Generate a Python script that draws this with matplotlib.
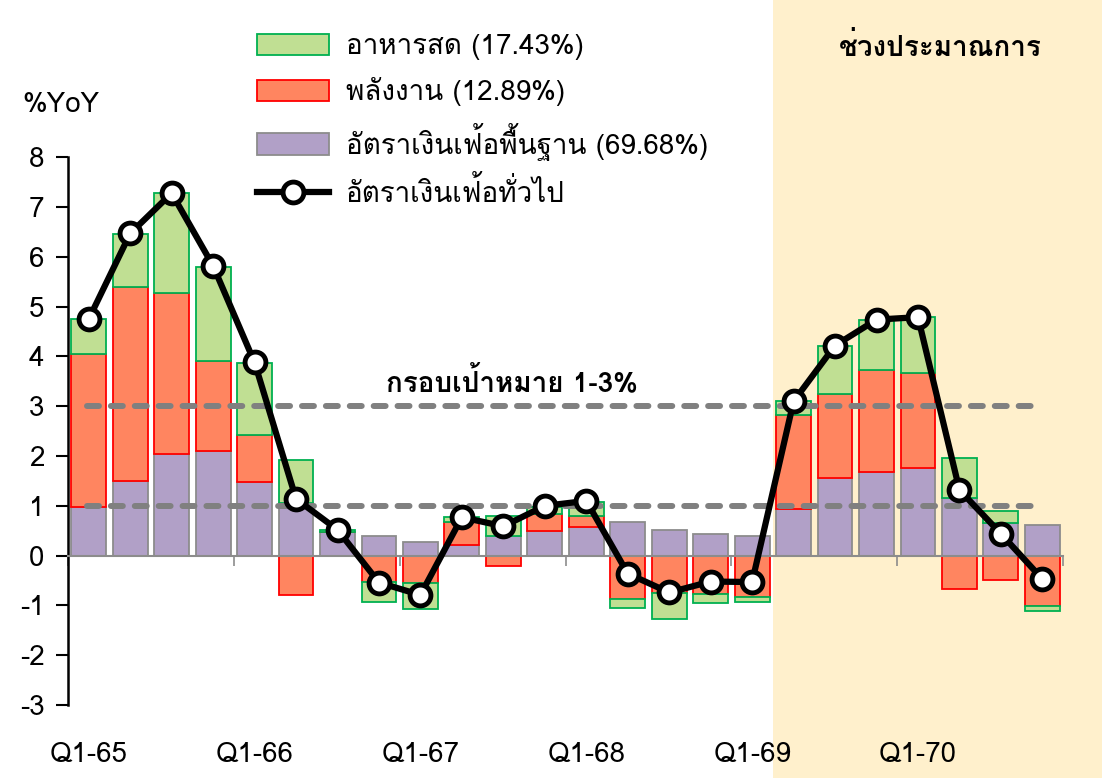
import numpy as np
import matplotlib
matplotlib.use('Agg')
import matplotlib.pyplot as plt
import matplotlib.font_manager as fm
from matplotlib.ft2font import FT2Font
from matplotlib.patches import Rectangle, Patch
from matplotlib.lines import Line2D
import matplotlib.transforms as mtransforms

# find a font with Thai glyphs
thai_font = None
for f in fm.fontManager.ttflist:
    try:
        if ord('ก') in FT2Font(f.fname).get_charmap():
            thai_font = f.name
            break
    except Exception:
        pass
fams = [thai_font, 'DejaVu Sans'] if thai_font else ['DejaVu Sans']
plt.rcParams['font.family'] = fams
plt.rcParams['axes.unicode_minus'] = False

quarters = ['Q1-65', 'Q2-65', 'Q3-65', 'Q4-65',
            'Q1-66', 'Q2-66', 'Q3-66', 'Q4-66',
            'Q1-67', 'Q2-67', 'Q3-67', 'Q4-67',
            'Q1-68', 'Q2-68', 'Q3-68', 'Q4-68',
            'Q1-69', 'Q2-69', 'Q3-69', 'Q4-69',
            'Q1-70', 'Q2-70', 'Q3-70', 'Q4-70']
core = [0.97, 1.50, 2.05, 2.11, 1.47, 1.05, 0.47, 0.39, 0.28, 0.22, 0.40, 0.50,
        0.58, 0.68, 0.52, 0.43, 0.40, 0.94, 1.55, 1.67, 1.77, 1.16, 0.66, 0.62]
energy = [3.08, 3.90, 3.23, 1.79, 0.96, -0.80, 0.00, -0.52, -0.54, 0.45, -0.20, 0.34,
          0.22, -0.87, -0.76, -0.78, -0.84, 1.89, 1.70, 2.05, 1.90, -0.66, -0.48, -1.02]
food = [0.70, 1.05, 2.00, 1.90, 1.44, 0.88, 0.05, -0.41, -0.54, 0.10, 0.39, 0.14,
        0.28, -0.18, -0.51, -0.18, -0.10, 0.28, 0.97, 1.02, 1.12, 0.81, 0.24, -0.10]
headline = [4.75, 6.47, 7.28, 5.82, 3.88, 1.14, 0.52, -0.54, -0.79, 0.77, 0.59, 1.00,
            1.10, -0.36, -0.74, -0.52, -0.53, 3.10, 4.22, 4.74, 4.79, 1.32, 0.44, -0.47]
label_idx = [0, 4, 8, 12, 16, 20]
target_lo, target_hi = 1, 3
forecast_start = 16.5

x = np.arange(len(quarters))
fs = 20

fig = plt.figure(figsize=(11.02, 7.78), dpi=100)
ax = fig.add_axes([0.0617, 0.0938, 0.903, 0.704])
ax.patch.set_alpha(0)

# forecast shading over the whole figure height
trans = mtransforms.blended_transform_factory(ax.transData, fig.transFigure)
fig.add_artist(Rectangle((forecast_start, 0), 20, 1, transform=trans,
                         facecolor='#FFF0CC', edgecolor='none', zorder=-5))

pos_b = np.zeros(len(x))
neg_b = np.zeros(len(x))
series = [(core, '#B1A0C7', '#8C8C8C'),
          (energy, '#FF8560', '#FF0000'),
          (food, '#C0DF93', '#00B050')]
for vals, fc, ec in series:
    v = np.array(vals)
    b = np.where(v >= 0, pos_b, neg_b)
    ax.bar(x, v, 0.84, bottom=b, color=fc, edgecolor=ec, linewidth=1.3, zorder=2)
    pos_b += np.where(v >= 0, v, 0)
    neg_b += np.where(v < 0, v, 0)

ax.hlines([target_lo, target_hi], -0.05, 22.9, colors='#808080', linewidth=4.3,
          linestyles=(0, (2.0, 2.0)), capstyle='round', zorder=3)

ax.plot(x, headline, color='black', linewidth=4.5, marker='o', markersize=15,
        markerfacecolor='white', markeredgecolor='black', markeredgewidth=3.5, zorder=4)

ax.set_xlim(-0.5, 23.5)
ax.set_ylim(-3, 8)
ax.set_yticks(range(-3, 9))
ax.tick_params(axis='y', labelsize=fs, length=9, width=1.5, direction='out', pad=8)
ax.spines['left'].set_linewidth(1.8)
ax.spines['top'].set_visible(False)
ax.spines['right'].set_visible(False)
ax.spines['bottom'].set_position(('data', 0))
ax.spines['bottom'].set_color('#8C8C8C')
ax.spines['bottom'].set_linewidth(1.5)
ax.set_xticks(np.arange(-0.5, 24, 4))
ax.set_xticklabels([])
ax.tick_params(axis='x', length=7, width=1.2, color='#8C8C8C', direction='out')

for i in label_idx:
    ax.text(x[i], -4.0, quarters[i], ha='center', va='center', fontsize=fs,
            clip_on=False)

fig.text(22 / 1102, 1 - 105 / 778, '%YoY', ha='left', va='center', fontsize=fs)
fig.text(940 / 1102, 1 - 47 / 778, 'ช่วงประมาณการ', ha='center', va='center',
         fontsize=fs, fontweight='bold')
ax.text(10.2, 3.5, 'กรอบเป้าหมาย 1-3%', ha='center', va='center', fontsize=fs,
        fontweight='bold')

handles = [Patch(facecolor='#C0DF93', edgecolor='#00B050', linewidth=1.3),
           Patch(facecolor='#FF8560', edgecolor='#FF0000', linewidth=1.3),
           Patch(facecolor='#B1A0C7', edgecolor='#8C8C8C', linewidth=1.3),
           Line2D([], [], color='black', linewidth=4.5, marker='o', markersize=15,
                  markerfacecolor='white', markeredgecolor='black', markeredgewidth=3.5)]
labels = ['อาหารสด (17.43%)', 'พลังงาน (12.89%)',
          'อัตราเงินเฟ้อพื้นฐาน (69.68%)', 'อัตราเงินเฟ้อทั่วไป']
fig.legend(handles, labels, loc='upper left', bbox_to_anchor=(257 / 1102, 1 - 34 / 778),
           frameon=False, fontsize=fs, handlelength=2.6, handleheight=0.8,
           handletextpad=0.6, labelspacing=0.6, borderpad=0, borderaxespad=0)

fig.savefig('out.png', dpi=100)
